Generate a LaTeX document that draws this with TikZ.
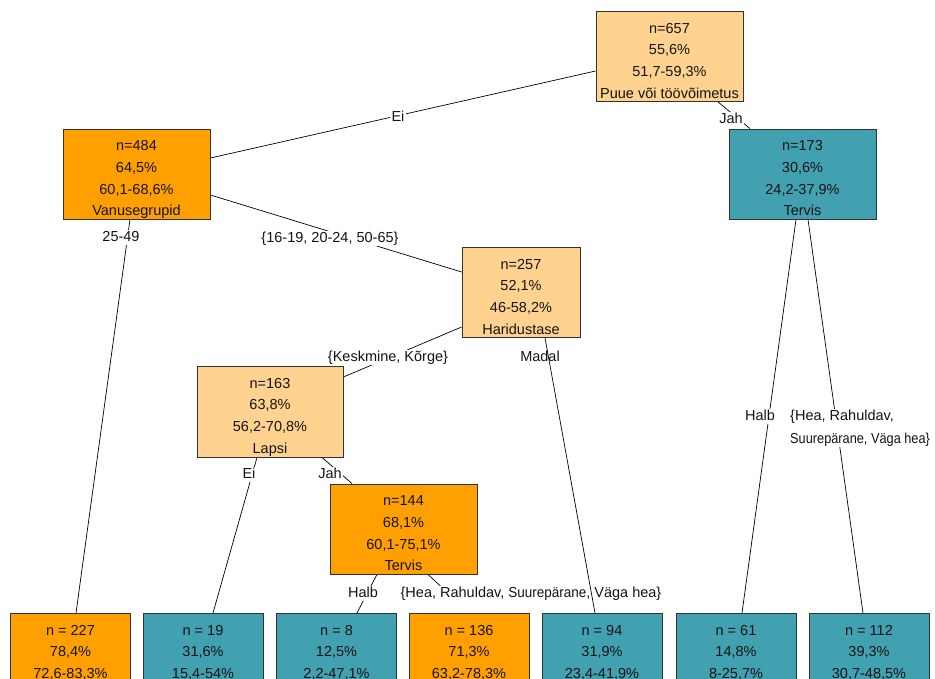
\documentclass[tikz,border=0pt]{standalone}
\usepackage{fontspec}
\setmainfont{Liberation Sans}
\usepackage{graphicx}
\pgfdeclarelayer{bg}
\pgfsetlayers{bg,main}
\definecolor{lorange}{RGB}{255,210,143}
\definecolor{dorange}{RGB}{255,160,0}
\definecolor{tealbox}{RGB}{66,161,176}
\definecolor{ink}{RGB}{20,20,20}
\newcommand\inbox[2]{\raisebox{#1}[0pt][0pt]{\begin{tabular}{@{}c@{}}#2\end{tabular}}}
\begin{document}
\begin{tikzpicture}[x=1pt,y=-1pt,
  every node/.style={text=ink},
  tbox/.style={draw=black!80, line width=0.8pt, inner sep=0pt, font=\fontsize{14.5}{21.6}\selectfont},
  innerbox/.style={tbox, minimum width=147pt, minimum height=90pt},
  leafbox/.style={tbox, anchor=north, minimum width=120pt, minimum height=100pt},
  fillL/.style={fill=lorange}, fillO/.style={fill=dorange}, fillT/.style={fill=tealbox},
  conn/.style={line width=0.7pt, black},
  elabbase/.style={fill=white, inner xsep=1.5pt, inner ysep=1pt, font=\fontsize{14.5}{23}\selectfont},
  elab/.style={elabbase, anchor=base, text height=10.5pt, text depth=3pt}
]
\useasboundingbox (0,0) rectangle (935,679);
\clip (0,0) rectangle (935,679);

% inner nodes
\node[innerbox,fillL] (root) at (669.5,56.5) {\inbox{-8.5pt}{n=657\\55,6\%\\51,7-59,3\%\\Puue või töövõimetus}};
\node[innerbox,fillO] (n484) at (136.5,174) {\inbox{-8.5pt}{n=484\\64,5\%\\60,1-68,6\%\\Vanusegrupid}};
\node[innerbox,fillT] (n173) at (802.5,174) {\inbox{-8.5pt}{n=173\\30,6\%\\24,2-37,9\%\\Tervis}};
\node[innerbox,fillL,minimum width=118pt] (n257) at (521,292.5) {\inbox{-8.5pt}{n=257\\52,1\%\\46-58,2\%\\Haridustase}};
\node[innerbox,fillL,minimum width=146pt,minimum height=91pt] (n163) at (270,411.5) {\inbox{-8.5pt}{n=163\\63,8\%\\56,2-70,8\%\\Lapsi}};
\node[innerbox,fillO] (n144) at (403.5,529) {\inbox{-8.5pt}{n=144\\68,1\%\\60,1-75,1\%\\Tervis}};

% leaves
\node[leafbox,fillO] (l1) at (70.5,613) {\inbox{7.2pt}{n = 227\\78,4\%\\72,6-83,3\%}};
\node[leafbox,fillT] (l2) at (203,613) {\inbox{7.2pt}{n = 19\\31,6\%\\15,4-54\%}};
\node[leafbox,fillT] (l3) at (336.5,613) {\inbox{7.2pt}{n = 8\\12,5\%\\2,2-47,1\%}};
\node[leafbox,fillO] (l4) at (469,613) {\inbox{7.2pt}{n = 136\\71,3\%\\63,2-78,3\%}};
\node[leafbox,fillT] (l5) at (602,613) {\inbox{7.2pt}{n = 94\\31,9\%\\23,4-41,9\%}};
\node[leafbox,fillT] (l6) at (736,613) {\inbox{7.2pt}{n = 61\\14,8\%\\8-25,7\%}};
\node[leafbox,fillT] (l7) at (869,613) {\inbox{7.2pt}{n = 112\\39,3\%\\30,7-48,5\%}};

\begin{pgfonlayer}{bg}
\draw[conn] ([yshift=-14.5pt]root.west) -- ([yshift=16pt]n484.east);
\draw[conn] ([xshift=48.5pt]root.south) -- ([xshift=-52.5pt]n173.north);
\draw[conn] ([yshift=-21pt]n484.east) -- ([yshift=20.5pt]n257.west);
\draw[conn] ([xshift=-6.5pt]n484.south) -- ([xshift=5.5pt]l1.north);
\draw[conn] ([yshift=-34.5pt]n257.west) -- ([yshift=34.5pt]n163.east);
\draw[conn] ([xshift=-13pt]n163.south) -- ([xshift=10pt]l2.north);
\draw[conn] ([xshift=52pt]n163.south) -- ([xshift=-51.5pt]n144.north);
\draw[conn] ([xshift=-26.5pt]n144.south) -- ([xshift=20.5pt]l3.north);
\draw[conn] ([xshift=24.5pt]n144.south) -- (l4.north);
\draw[conn] ([xshift=-6.5pt]n173.south) -- ([xshift=6pt]l6.north);
\draw[conn] ([xshift=5.5pt]n173.south) -- ([xshift=-6pt]l7.north);

\node[elab] (eEi1) at (398,121.2) {Ei};
\node[elab] (eJah1) at (731,123.2) {Jah};
\node[elab] (e2549) at (121,241.2) {25-49};
\node[elab] (eAge) at (330,242.2) {\{16-19, 20-24, 50-65\}};
\node[elab] (eKesk) at (388,361.2) {\{Keskmine, Kõrge\}};
\node[elab] (eMadal) at (540,361.2) {Madal};
\node[elab] (eEi2) at (249,478.2) {Ei};
\node[elab] (eJah2) at (330,478.2) {Jah};
\node[elab] (eHalb1) at (363,597.2) {Halb};
\node[elab, text depth=17pt] (eHea1) at (531,597.2) {\{Hea, Rahuldav, \scalebox{0.93}[1]{Suurepärane}, Väga hea\}};
\node[elab] (eHalb2) at (760,420.2) {Halb};
\node[elabbase, anchor=north west, align=left] (eHea2) at (788.5,408.5) {\{Hea, Rahuldav,\\\scalebox{0.88}[1]{Suurepärane, Väga hea\}}};

\draw[conn] ([xshift=24pt]n257.south) -- ([xshift=-7pt]l5.north);
\end{pgfonlayer}
\end{tikzpicture}
\end{document}
